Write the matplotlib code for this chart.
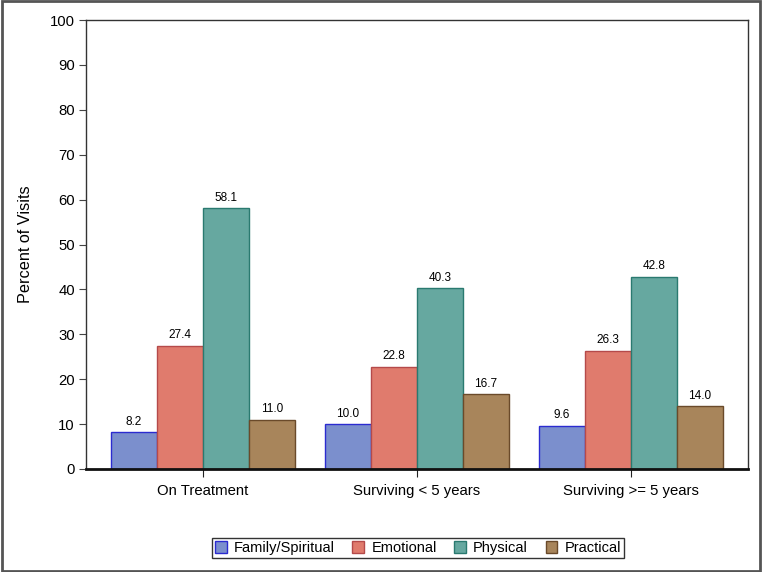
import matplotlib.pyplot as plt
import numpy as np
from matplotlib.patches import Rectangle

plt.rcParams['font.family'] = ['Liberation Sans', 'DejaVu Sans']

# Data -------------------------------------------------------------------------
groups = ['On Treatment', 'Surviving < 5 years', 'Surviving >= 5 years']
series = ['Family/Spiritual', 'Emotional', 'Physical', 'Practical']
family = [8.2, 10.0, 9.6]
emotional = [27.4, 22.8, 26.3]
physical = [58.1, 40.3, 42.8]
practical = [11.0, 16.7, 14.0]

fills = ['#7b8fcd', '#e07b6d', '#66a8a0', '#a8855b']
edges = ['#2b2bd0', '#b54a4a', '#2a7a70', '#6a4a2a']

# Plot -------------------------------------------------------------------------
fig = plt.figure(figsize=(7.62, 5.72), dpi=100)
ax = fig.add_axes([86/762, 1 - 469/572, (748-86)/762, (469-20)/572])

x = np.arange(len(groups))
w = 0.215
for k, (vals, fc, ec, name) in enumerate(zip([family, emotional, physical, practical],
                                              fills, edges, series)):
    pos = x + (k - 1.5) * w
    bars = ax.bar(pos, vals, w, color=fc, edgecolor=ec, linewidth=1, label=name)
    for b, v in zip(bars, vals):
        ax.text(b.get_x() + b.get_width()/2, v + 1.0, '%.1f' % v,
                ha='center', va='bottom', fontsize=8.5)

ax.set_xlim(-0.547, 2.547)
ax.set_ylim(0, 100)
ax.set_yticks(np.arange(0, 101, 10))
ax.set_xticks(x)
ax.set_xticklabels(groups, fontsize=10.7)
ax.tick_params(axis='y', labelsize=10.7, length=5, color='#444444', pad=3)
ax.tick_params(axis='x', length=6, color='#222222', pad=5)
ax.set_ylabel('Percent of Visits', fontsize=11.7, labelpad=12)
for s in ['top', 'right', 'left']:
    ax.spines[s].set_color('#333333')
    ax.spines[s].set_linewidth(1)
ax.spines['bottom'].set_linewidth(2)
ax.spines['bottom'].set_color('#111111')

leg = fig.legend(loc='center', bbox_to_anchor=(418/762, 1 - 548/572), ncol=4,
                 fontsize=10.5, frameon=True, fancybox=False, edgecolor='black',
                 handlelength=0.8, handleheight=0.8, handletextpad=0.5,
                 columnspacing=1.2, borderpad=0.2, borderaxespad=0)
leg.get_frame().set_linewidth(1)

# outer border
fig.patches.append(Rectangle((0.002, 0.002), 0.996, 0.996, transform=fig.transFigure,
                             fill=False, edgecolor='#555555', linewidth=2))

fig.savefig('out.png', dpi=100)
